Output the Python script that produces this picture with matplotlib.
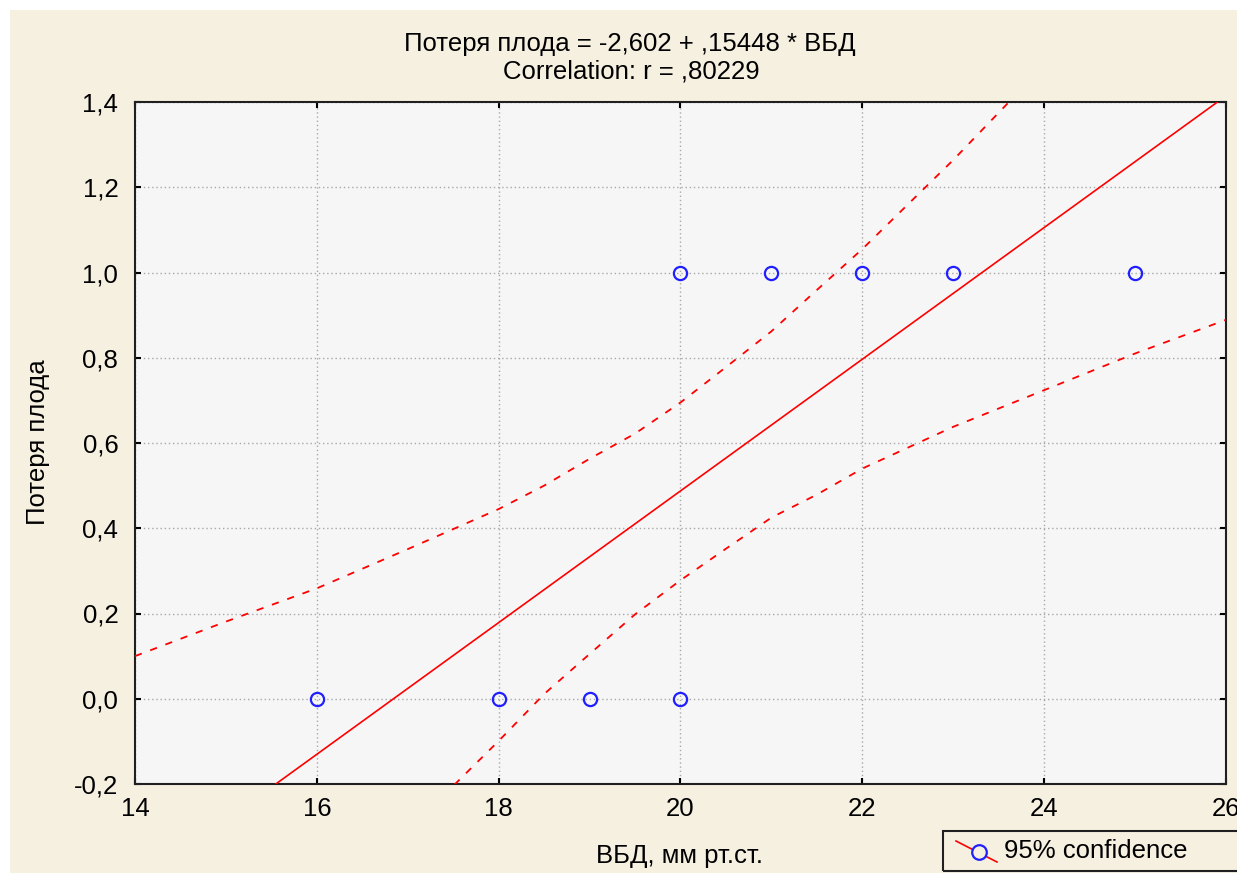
import matplotlib
matplotlib.use("Agg")
import matplotlib.pyplot as plt
from matplotlib.patches import Rectangle
from matplotlib.lines import Line2D
from matplotlib.ticker import FuncFormatter

plt.rcParams['font.family'] = ['Liberation Sans', 'DejaVu Sans']

# observed points
vbd = [16, 18, 19, 20, 20, 21, 22, 23, 25]
loss = [0, 0, 0, 0, 1, 1, 1, 1, 1]

# regression coefficients (from the title)
intercept = -2.602
slope = 0.15448

# 95% confidence band
band_x = [14, 15, 16, 17, 18, 18.5, 19, 19.5, 20, 20.5, 21, 21.5, 22, 23, 24, 25, 26]
band_upper = [0.100, 0.181, 0.259, 0.351, 0.445, 0.500, 0.563, 0.622, 0.695, 0.778,
              0.862, 0.959, 1.055, 1.264, 1.486, 1.71, 1.94]
band_lower = [-0.98, -0.75, -0.52, -0.31, -0.099, 0.011, 0.105, 0.198, 0.278, 0.352,
              0.425, 0.479, 0.540, 0.638, 0.724, 0.810, 0.889]

x_ticks = [14, 16, 18, 20, 22, 24, 26]
y_ticks = [-0.2, 0.0, 0.2, 0.4, 0.6, 0.8, 1.0, 1.2, 1.4]

FS = 18.5
BEIGE = '#f6f0e1'
W, H = 1237, 875
fig = plt.figure(figsize=(W / 100, H / 100), dpi=100, facecolor='white')

# beige panel behind the chart
fig.patches.append(Rectangle((10 / W, 2 / H), 1, 863 / H, transform=fig.transFigure,
                             facecolor=BEIGE, edgecolor='none', zorder=-5))

ax = fig.add_axes([135 / W, 1 - 784 / H, (1226 - 135) / W, (784 - 102) / H])
ax.set_facecolor('#f6f6f6')
ax.set_xlim(14, 26)
ax.set_ylim(-0.2, 1.4)
ax.set_xticks(x_ticks)
ax.set_yticks(y_ticks)
ax.xaxis.set_major_formatter(FuncFormatter(lambda v, p: f"{v:.0f}"))
ax.yaxis.set_major_formatter(FuncFormatter(lambda v, p: f"{v:.1f}".replace('.', ',')))
ax.tick_params(direction='in', length=4, width=1.5, top=True, right=True,
               labelsize=FS, colors='black')
ax.tick_params(axis='y', pad=12)
ax.tick_params(axis='x', pad=9)
ax.grid(True, color='#a8a8a8', linestyle=(0, (1, 2)), linewidth=1.0)
ax.set_axisbelow(True)
for s in ax.spines.values():
    s.set_linewidth(1.5)
    s.set_color('#202020')

# regression line
ax.axline((0, intercept), slope=slope, color='red', linewidth=1.2, zorder=3)
# confidence bands
ax.plot(band_x, band_upper, color='red', linewidth=1.3, linestyle=(0, (4, 5)), zorder=3)
ax.plot(band_x, band_lower, color='red', linewidth=1.3, linestyle=(0, (4, 5)), zorder=3)
# points
ax.plot(vbd, loss, linestyle='none', marker='o', markersize=9.5, markerfacecolor='none',
        markeredgecolor='#1f1fff', markeredgewidth=1.6, zorder=4, clip_on=False)

fig.text(679 / W, 1 - 856 / H, 'ВБД, мм рт.ст.', ha='center', va='center', fontsize=FS)
fig.text(38 / W, 1 - 442 / H, 'Потеря плода', ha='center', va='center', rotation=90, fontsize=FS)

fig.text(630 / W, 1 - 44 / H, 'Потеря плода = -2,602 + ,15448 * ВБД', ha='center', va='center', fontsize=FS)
fig.text(631 / W, 1 - 72 / H, 'Correlation: r = ,80229', ha='center', va='center', fontsize=FS)

# legend box
fig.patches.append(Rectangle((943 / W, 1 - 871 / H), 320 / W, 40 / H, transform=fig.transFigure,
                             facecolor='none', edgecolor='#202020', linewidth=1.5, zorder=5))
fig.lines.append(Line2D([956 / W, 997 / W], [1 - 841 / H, 1 - 862 / H], transform=fig.transFigure,
                        color='red', linewidth=1.2, zorder=6))
fig.lines.append(Line2D([979 / W], [1 - 851.5 / H], transform=fig.transFigure, marker='o',
                        markersize=10.5, markerfacecolor=BEIGE, markeredgecolor='#1f1fff',
                        markeredgewidth=1.6, zorder=7))
fig.text(1004 / W, 1 - 851 / H, '95% confidence', ha='left', va='center', fontsize=FS)

fig.savefig('out.png', dpi=100, facecolor='white')
